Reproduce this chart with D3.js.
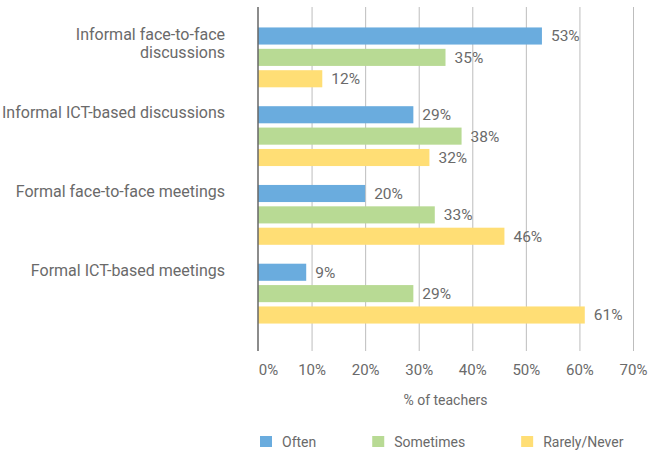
<!DOCTYPE html>
<html>
<head>
<meta charset="utf-8">
<script src="https://cdn.jsdelivr.net/npm/d3@7"></script>
<style>
  body { margin: 0; background: #fff; }
  text { font-family: "Roboto", "Liberation Sans", sans-serif; font-weight: 400; fill: #6a6a6a; }
</style>
</head>
<body>
<svg id="chart"></svg>
<script>
// Data
const categories = [
    ["Informal face-to-face", "discussions"],
    ["Informal ICT-based discussions"],
    ["Formal face-to-face meetings"],
    ["Formal ICT-based meetings"]
];
const seriesNames = ["Often", "Sometimes", "Rarely/Never"];
const often = [53, 29, 20, 9];
const sometimes = [35, 38, 33, 29];
const rarely = [12, 32, 46, 61];
const xTicks = [0, 10, 20, 30, 40, 50, 60, 70];
const colors = ["#6aacde", "#b8da94", "#ffde75"];

const rows = categories.map((c, i) => ({
    label: c,
    values: [often[i], sometimes[i], rarely[i]]
}));

const width = 649, height = 450;
const svg = d3.select("#chart")
    .attr("width", width)
    .attr("height", height);

// Scales
const x = d3.scaleLinear()
    .domain([0, 70])
    .range([258, 633]);

const y = d3.scaleBand()
    .domain(d3.range(rows.length))
    .range([18, 333])
    .paddingInner(0.24)
    .paddingOuter(0.12);

const yInner = d3.scaleBand()
    .domain(d3.range(seriesNames.length))
    .range([0, y.bandwidth()])
    .paddingInner(0.2);

const gridTop = 7, gridBottom = 351;

// Gridlines
svg.append("g")
    .selectAll("line")
    .data(xTicks.slice(1))
    .enter().append("line")
    .attr("x1", d => x(d) + 0.5)
    .attr("x2", d => x(d) + 0.5)
    .attr("y1", gridTop)
    .attr("y2", gridBottom)
    .attr("stroke", "#bdbdbd")
    .attr("stroke-width", 1);

// Tick labels via axis
const xAxis = svg.append("g")
    .attr("transform", `translate(0,${gridBottom})`)
    .call(d3.axisBottom(x).tickValues(xTicks).tickFormat(d => d + "%").tickSize(0).tickPadding(13));
xAxis.select(".domain").remove();
xAxis.selectAll("text")
    .attr("font-size", "15px")
    .attr("font-family", "Roboto, sans-serif")
    .attr("fill", "#6a6a6a")
    .attr("dx", d => d === 0 ? "10px" : 0);

// Bars
const groups = svg.selectAll(".group")
    .data(rows)
    .enter().append("g")
    .attr("class", "group")
    .attr("transform", (d, i) => `translate(0,${y(i)})`);

groups.selectAll("rect")
    .data(d => d.values)
    .enter().append("rect")
    .attr("x", x(0))
    .attr("y", (d, j) => yInner(j))
    .attr("width", d => x(d) - x(0))
    .attr("height", yInner.bandwidth())
    .attr("fill", (d, j) => colors[j]);

groups.selectAll(".value")
    .data(d => d.values)
    .enter().append("text")
    .attr("class", "value")
    .attr("x", d => x(d) + 9)
    .attr("y", (d, j) => yInner(j) + yInner.bandwidth() / 2)
    .attr("dy", "0.35em")
    .attr("font-size", "15.5px")
    .text(d => d + "%");

// Category labels
groups.append("text")
    .attr("text-anchor", "end")
    .attr("font-size", "16px")
    .attr("x", 225)
    .attr("y", yInner(0) + yInner.bandwidth() / 2 - 2)
    .selectAll("tspan")
    .data(d => d.label)
    .enter().append("tspan")
    .attr("x", 225)
    .attr("dy", (d, i) => i === 0 ? "0.35em" : "1.15em")
    .text(d => d);

// Vertical axis line
svg.append("line")
    .attr("x1", x(0))
    .attr("x2", x(0))
    .attr("y1", gridTop)
    .attr("y2", gridBottom)
    .attr("stroke", "#666")
    .attr("stroke-width", 1.5);

// X axis title
svg.append("text")
    .attr("x", (x(0) + x(70)) / 2)
    .attr("y", 405)
    .attr("text-anchor", "middle")
    .attr("font-size", "14px")
    .text("% of teachers");

// Legend
const legend = svg.append("g")
    .attr("transform", "translate(260,436)");
let lx = 0;
seriesNames.forEach((name, i) => {
    const item = legend.append("g").attr("transform", `translate(${lx},0)`);
    item.append("rect")
        .attr("width", 12)
        .attr("height", 11)
        .attr("fill", colors[i]);
    const t = item.append("text")
        .attr("x", 22)
        .attr("y", 11)
        .attr("font-size", "14px")
        .text(name);
    lx += 22 + t.node().getComputedTextLength() + 56;
});
</script>
</body>
</html>
